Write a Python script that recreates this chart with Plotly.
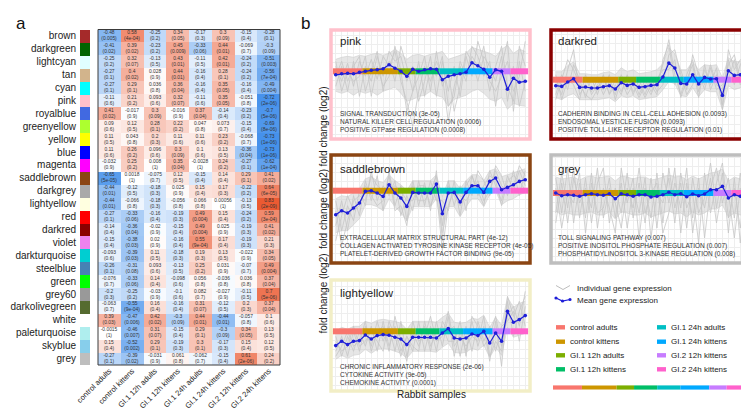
import plotly.graph_objects as go

W, H = 749, 409
FONT = "Liberation Sans, Arial, sans-serif"

# ---------------- panel a: module-trait heatmap ----------------
modules = ["brown", "darkgreen", "lightcyan", "tan", "cyan", "pink", "royalblue", "greenyellow",
           "yellow", "blue", "magenta", "saddlebrown", "darkgrey", "lightyellow", "red", "darkred",
           "violet", "darkturquoise", "steelblue", "green", "grey60", "darkolivegreen", "white",
           "paleturquoise", "skyblue", "grey"]
module_colors = ["#A52A2A", "#006400", "#E0FFFF", "#D2B48C", "#00FFFF", "#FFC0CB", "#4169E1", "#ADFF2F",
                 "#FFFF00", "#0000FF", "#FF00FF", "#8B4513", "#A9A9A9", "#FFFFE0", "#FF0000", "#8B0000",
                 "#EE82EE", "#00CED1", "#4682B4", "#00FF00", "#999999", "#556B2F", "#FFFFFF",
                 "#AFEEEE", "#87CEEB", "#BEBEBE"]
conditions = ["control adults", "control kittens", "GI.1 12h adults", "GI.1 12h kittens",
              "GI.1 24h adults", "GI.1 24h kittens", "GI.2 12h kittens", "GI.2 24h kittens"]

cor = [
    [-0.48, 0.58, -0.25, 0.34, -0.17, 0.3, -0.15, -0.28],
    [-0.41, 0.39, -0.23, 0.45, -0.33, 0.44, -0.069, -0.3],
    [-0.25, 0.32, -0.13, 0.43, -0.11, 0.42, -0.24, -0.51],
    [-0.27, 0.4, 0.028, 0.44, -0.16, 0.28, -0.24, -0.56],
    [-0.27, 0.29, 0.036, 0.36, -0.16, 0.35, -0.16, -0.49],
    [-0.11, 0.21, 0.093, 0.32, -0.11, 0.35, -0.051, -0.72],
    [0.41, -0.017, 0.3, -0.016, 0.37, -0.14, -0.23, -0.7],
    [0.09, 0.12, 0.28, 0.22, 0.047, 0.073, -0.15, -0.69],
    [0.11, 0.043, 0.2, 0.11, 0.11, 0.23, -0.068, -0.73],
    [0.11, 0.26, 0.096, 0.3, 0.1, 0.13, -0.36, -0.73],
    [-0.032, 0.25, 0.008, 0.35, -0.0028, 0.24, -0.27, -0.62],
    [-0.65, 0.0018, -0.075, 0.12, -0.15, 0.14, 0.29, 0.41],
    [-0.44, -0.12, -0.18, 0.025, 0.15, 0.17, -0.22, 0.64],
    [-0.44, -0.066, -0.18, -0.056, 0.066, 0.00056, -0.13, 0.83],
    [-0.27, -0.33, -0.16, -0.19, 0.49, 0.15, -0.24, 0.59],
    [-0.14, -0.36, -0.02, -0.15, 0.49, 0.025, -0.19, 0.41],
    [-0.15, -0.38, 0.02, -0.16, 0.55, 0.17, -0.19, 0.21],
    [-0.093, -0.39, 0.11, -0.18, 0.19, 0.13, -0.022, 0.34],
    [-0.26, -0.31, 0.093, -0.13, 0.25, 0.031, -0.07, 0.49],
    [-0.076, -0.33, 0.14, -0.098, 0.056, -0.036, 0.036, 0.37],
    [-0.2, -0.25, -0.03, -0.1, 0.082, -0.027, -0.11, 0.7],
    [-0.063, -0.55, 0.16, -0.16, 0.31, -0.12, 0.2, 0.37],
    [0.39, -0.47, 0.42, -0.3, 0.44, -0.44, -0.057, 0.1],
    [-0.0015, -0.46, 0.31, -0.15, 0.29, -0.3, 0.34, 0.13],
    [0.15, -0.52, 0.29, -0.19, 0.3, -0.17, 0.15, 0.12],
    [-0.27, -0.39, -0.031, 0.061, -0.062, -0.15, 0.61, 0.24],
]
pval = [
    ["0.005", "4e-04", "0.2", "0.05", "0.3", "0.09", "0.4", "0.1"],
    ["0.02", "0.02", "0.2", "0.009", "0.06", "0.01", "0.7", "0.09"],
    ["0.2", "0.07", "0.5", "0.01", "0.5", "0.01", "0.2", "0.003"],
    ["0.1", "0.02", "0.9", "0.01", "0.4", "0.1", "0.2", "7e-04"],
    ["0.1", "0.1", "0.8", "0.04", "0.4", "0.05", "0.4", "0.004"],
    ["0.6", "0.2", "0.6", "0.07", "0.6", "0.05", "0.8", "2e-06"],
    ["0.02", "0.9", "0.09", "0.9", "0.04", "0.4", "0.2", "5e-06"],
    ["0.6", "0.5", "0.1", "0.2", "0.8", "0.7", "0.4", "8e-06"],
    ["0.5", "0.8", "0.3", "0.6", "0.6", "0.2", "0.7", "1e-06"],
    ["0.6", "0.2", "0.6", "0.09", "0.6", "0.5", "0.04", "1e-06"],
    ["0.9", "0.2", "1", "0.04", "1", "0.2", "0.1", "1e-04"],
    ["5e-05", "1", "0.7", "0.5", "0.4", "0.4", "0.1", "0.02"],
    ["0.01", "0.5", "0.3", "0.9", "0.4", "0.3", "0.2", "6e-05"],
    ["0.01", "0.8", "0.3", "0.8", "0.8", "1", "0.5", "2e-09"],
    ["0.1", "0.06", "0.4", "0.3", "0.004", "0.4", "0.2", "3e-04"],
    ["0.4", "0.04", "0.9", "0.4", "0.004", "0.9", "0.3", "0.02"],
    ["0.4", "0.03", "0.9", "0.4", "9e-04", "0.4", "0.3", "0.3"],
    ["0.6", "0.03", "0.5", "0.3", "0.3", "0.5", "0.9", "0.05"],
    ["0.1", "0.08", "0.6", "0.5", "0.2", "0.9", "0.7", "0.004"],
    ["0.7", "0.06", "0.4", "0.6", "0.8", "0.8", "0.8", "0.04"],
    ["0.3", "0.2", "0.9", "0.6", "0.7", "0.9", "0.5", "5e-06"],
    ["0.7", "9e-04", "0.4", "0.4", "0.07", "0.5", "0.3", "0.04"],
    ["0.03", "0.006", "0.02", "0.09", "0.01", "0.01", "0.8", "0.6"],
    ["1", "0.007", "0.07", "0.4", "0.1", "0.09", "0.05", "0.5"],
    ["0.4", "0.002", "0.1", "0.3", "0.1", "0.3", "0.4", "0.5"],
    ["0.1", "0.02", "0.9", "0.8", "0.7", "0.4", "2e-06", "0.2"],
]

# ---------------- panel b: module expression profiles ----------------
group_names = ["control adults", "control kittens", "GI.1 12h adults", "GI.1 12h kittens",
               "GI.1 24h adults", "GI.1 24h kittens", "GI.2 12h kittens", "GI.2 24h kittens"]
group_colors = ["#F8766D", "#CD9600", "#7CAE00", "#00BE67", "#00BFC4", "#00A9FF", "#C77CFF", "#FF61CC"]
group_sizes = [5, 6, 3, 4, 4, 5, 3, 3]

panel_names = ["pink", "darkred", "saddlebrown", "grey", "lightyellow"]
panel_border = ["#FFC0CB", "#8B0000", "#8B4513", "#BEBEBE", "#F2EEC6"]

pink_mean = [-3.5, -2.5, -2, -2.5, -1, 0, 1, 1.5, 2.5, 6.5, 3, 0, -5, 2, 0, 1.5, 2.5, 2, -8.5, -5, -3.5,
             -2.5, -1, 8.5, 5.5, 2, -6, 1.5, 0, -18, -7, -11, -10]
darkred_mean = [-6, -6.7, -2.3, 1, -7.7, -7.3, -8.3, -8.3, -7, -6, -9.3, -3, -5.7, -4.3, -7.7, -7, -5.7,
                -5, 2.7, 16.7, 11.7, -3.7, -4.3, 5, -4.3, 2.3, 0.7, 1, -15.7, 9, 4.3, 5, 11]
saddlebrown_mean = [-24, -20, -22.3, -17.3, -12.3, -0.7, 0, -2.3, -5.7, 6, -2.3, -7.3, -15.7, -1.7, -2.3,
                    -2.3, -2.3, 6.7, -23, -2.3, -1.7, -11.3, -1.7, 5, 5, -1.7, 9.3, 12.7, 1, 3.3, 6, 9.3, 11]
grey_mean = [0, -2.7, -1.7, -2.3, -3.3, -1.7, -0.7, -1.7, -2.3, -0.7, -5.7, -0.7, -1.7, -3.3, -1.7, -1.7,
             -4, -3.3, -1.7, 0.7, -1.7, -0.7, -3.7, -1, -2.7, -1, 3.3, 3.3, 6.7, -5, -1.7, -3.3, -2.7]
lightyellow_mean = [-14.3, -10, -13.3, -10, -9.3, -3.7, -7.7, -4.3, -3.3, -4, -6, -7.7, -13.3, -6, -6, -6,
                    -6, -6.7, -1.7, 2.7, -6.7, -7.7, -6.7, -2.7, -4.3, 0, -11.7, -1.7, -10, 20, 9, 11.7, 15.7]

# dense core of the individual gene lines (upper / lower edge)
pink_hi = [12, 14, 15, 14, 16, 15, 17, 18, 16, 18, 22, 18, 12, 16, 17, 15, 17, 18, 20, 12, 14, 16, 18, 24, 22,
           20, 18, 15, 22, 26, 18, 22, 20]
pink_lo = [-20, -22, -20, -24, -20, -22, -20, -24, -20, -18, -16, -22, -30, -28, -25, -24, -20, -24, -26, -35,
           -28, -26, -24, -20, -18, -22, -28, -30, -26, -38, -32, -34, -35]
darkred_hi = [8, 8, 14, 18, 6, 6, 5, 5, 7, 8, 5, 12, 8, 10, 6, 7, 8, 10, 16, 32, 26, 10, 10, 18, 10, 15, 14, 15,
              2, 22, 18, 18, 24]
darkred_lo = [-18, -20, -16, -14, -20, -20, -20, -20, -19, -18, -22, -16, -18, -16, -20, -19, -18, -17, -10, -2,
              -4, -16, -17, -8, -17, -10, -12, -12, -30, -6, -10, -8, -4]
saddlebrown_hi = [-8, -5, -6, -2, 2, 12, 14, 10, 8, 16, 10, 6, 0, 10, 10, 10, 10, 16, -6, 10, 10, 2, 10, 16, 16,
                  10, 20, 22, 14, 16, 18, 20, 22]
saddlebrown_lo = [-42, -40, -40, -34, -28, -14, -14, -16, -20, -8, -16, -22, -30, -16, -16, -16, -16, -8, -42,
                  -16, -16, -26, -16, -8, -8, -16, -4, 0, -14, -10, -8, -4, -2]
grey_hi = [16, 14, 15, 16, 13, 16, 17, 15, 16, 17, 12, 17, 16, 14, 16, 16, 13, 14, 16, 18, 16, 17, 13, 17, 14,
           17, 20, 21, 24, 12, 16, 14, 15]
grey_lo = [-18, -22, -20, -22, -22, -20, -19, -22, -22, -19, -26, -19, -20, -22, -22, -20, -24, -22, -20, -18,
           -21, -20, -24, -19, -22, -20, -16, -16, -12, -24, -20, -22, -22]
lightyellow_hi = [0, 4, 2, 5, 5, 10, 8, 11, 12, 11, 10, 8, 2, 10, 10, 10, 10, 9, 14, 18, 9, 8, 9, 13, 12, 16, 4,
                  14, 6, 34, 24, 28, 30]
lightyellow_lo = [-28, -24, -27, -24, -23, -18, -22, -18, -17, -18, -20, -22, -27, -20, -20, -20, -20, -21, -16,
                  -12, -21, -22, -21, -17, -19, -14, -26, -16, -24, 4, -6, -4, -2]

# a few individual (outlying) gene profiles per module
pink_genes = [
    [5, -10, 8, -15, 10, -5, 12, -8, 15, 5, 20, -10, -30, -55, -20, 5, -10, 10, -5, -50, -15, 5, -10, 25, 15, -5, 10, -35, 5, 30, -40, 10, -20],
    [-15, 5, -20, 10, -25, 5, -10, 15, -5, 20, 10, 15, -10, 5, -30, -10, 15, -25, 10, -20, 5, -25, 15, -5, 30, 10, -20, 5, 25, -15, -30, 25, 5],
    [10, -20, 0, -10, -5, 15, -25, 5, -15, -5, 25, 0, -40, -20, 10, -25, 5, -5, 15, -35, -25, 10, -5, 15, 5, 25, -10, -20, -5, 10, -20, -5, 30],
    [-5, 10, -10, 5, 15, -20, 0, 20, -20, 10, -10, 25, 5, -20, -5, 15, -20, 20, -15, 0, -40, -15, 20, 10, -10, 15, 5, -10, 15, -30, 5, -35, -10],
]
darkred_genes = [
    [0, -15, 10, 30, -15, -5, -12, 0, -15, -2, -15, 5, -10, 2, -15, 0, -12, -2, 15, 40, 5, -15, 5, 20, -12, 10, -5, 12, -30, 20, -5, 15, 25],
    [-15, 5, -10, 15, 0, -18, 2, -15, 3, -14, 0, -12, 3, -15, 0, -15, 2, -12, -5, 25, 30, 5, -15, -5, 8, -10, 12, -10, -5, 0, 20, -5, 5],
    [5, -20, 0, -5, -20, 5, -15, -5, -10, 5, -20, 0, -15, -5, -18, -5, -15, 0, 10, 10, 20, -18, 0, 15, -18, 15, -10, 5, -25, 30, 10, 20, 15],
    [-20, 0, 20, 10, -5, -15, -20, -10, 5, -15, -5, -15, 5, -12, -5, -18, -5, -15, 20, 35, -5, 10, -10, 25, 5, -5, 15, -5, -10, 15, 25, 0, 30],
]
saddlebrown_genes = [
    [-35, -10, -40, -5, -25, 10, -10, 15, -20, 20, -15, 5, -30, 10, -15, 8, -20, 20, -50, 10, -15, 5, -20, 15, 0, -15, 20, 5, -10, 15, 0, 20, 5],
    [-10, -40, -15, -30, 0, -15, 20, -10, 5, -5, 10, -25, -5, -20, 10, -15, 10, -10, -10, -20, 10, -25, 10, -5, 20, 10, -5, 25, 15, -5, 20, -5, 20],
    [-50, -25, -5, -20, -15, 5, -5, -15, -10, 15, -20, -15, -35, 5, -10, -10, 0, 15, -35, 5, -5, -15, 5, 15, -5, 5, 15, 10, -15, 10, 15, 10, 0],
    [-20, -55, -30, -10, -5, -10, 15, 5, 0, 0, 5, 0, -10, -10, 5, 5, -15, 0, -60, -15, 0, -5, -10, 0, 10, -10, 0, 20, 5, 0, 5, 25, 15],
]
grey_genes = [
    [15, -20, 25, -30, 10, -25, 20, -35, 5, -15, -40, 25, -10, 15, -45, 5, -25, 20, -30, 25, -15, 10, -35, 15, -20, -5, 30, -15, 20, -40, 15, -50, 10],
    [-20, 20, -15, 25, -25, 15, -30, 10, 25, -30, 5, -20, 20, -25, 10, -30, 15, -35, 20, -10, 25, -40, 10, -25, 15, -45, 5, 25, -10, 15, -25, 20, -30],
    [5, -35, 0, -10, 20, -40, 10, -20, -15, 15, -25, 10, -35, 5, -20, 15, -45, 0, -10, 15, -30, 20, -15, 0, -50, 20, -20, 10, 30, -25, 5, -35, 15],
    [-30, 10, -30, 15, -10, 5, -15, 25, -25, 5, -10, -35, 5, -15, 25, -20, 0, 10, -40, -20, 10, -15, 25, -40, 5, -15, 15, -30, 5, 0, -45, 5, -20],
]
lightyellow_genes = [
    [-20, -5, -25, 0, -20, 5, -15, 10, -10, 5, -20, 10, -25, 0, -15, 5, -20, 10, -15, 15, -25, 0, -20, 10, -15, 5, -30, 10, -35, 30, -5, 20, 35],
    [-5, -25, -5, -20, 0, -15, 5, -20, 10, -15, 5, -20, -5, -20, 10, -20, 5, -20, 10, 0, 5, -25, 5, -20, 10, -10, 5, -20, 5, 10, 20, -10, 25],
    [-25, -15, 0, -15, -10, 10, -20, 0, 5, -20, 15, -10, -30, 10, -10, -5, 15, -10, -5, 20, -15, -5, -15, -5, -10, 15, -25, -10, -20, 35, 15, 30, 5],
    [-10, -20, -15, 5, -15, -10, 0, -10, -20, 10, -5, -25, -5, -15, -20, 10, -15, 0, 5, -10, -10, 10, -25, 15, 5, -15, -5, 15, -15, 15, 25, 5, 40],
]

go_terms = {
    "pink": ["SIGNAL TRANSDUCTION (3e-05)", "NATURAL KILLER CELL REGULATION (0.0006)",
             "POSITIVE GTPase REGULATION (0.0008)"],
    "darkred": ["CADHERIN BINDING IN CELL-CELL ADHESION (0.0093)", "ENDOSOMAL VESTICLE FUSION (0.0093)",
                "POSITIVE TOLL-LIKE RECEPTOR REGULATION (0.01)"],
    "saddlebrown": ["EXTRACELLULAR MATRIX STRUCTURAL PART (4e-12)",
                    "COLLAGEN ACTIVATED TYROSINE KINASE RECEPTOR (4e-05)",
                    "PLATELET-DERIVED GROWTH FACTOR BINDING (9e-05)"],
    "grey": ["TOLL SIGNALING PATHWAY (0.007)", "POSITIVE INOSITOL PHOSPHATE REGULATION (0.007)",
             "PHOSPHATIDYLINOSITOL 3-KINASE REGULATION (0.008)"],
    "lightyellow": ["CHRONIC INFLAMMATORY RESPONSE (2e-06)", "CYTOKINE ACTIVITY (9e-05)",
                    "CHEMOKINE ACTIVITY (0.0001)"],
}

panel_data = {
    "pink": (pink_mean, pink_hi, pink_lo, pink_genes),
    "darkred": (darkred_mean, darkred_hi, darkred_lo, darkred_genes),
    "saddlebrown": (saddlebrown_mean, saddlebrown_hi, saddlebrown_lo, saddlebrown_genes),
    "grey": (grey_mean, grey_hi, grey_lo, grey_genes),
    "lightyellow": (lightyellow_mean, lightyellow_hi, lightyellow_lo, lightyellow_genes),
}

# ---------------- layout helpers ----------------
def px(x, y):
    return x / W, 1 - y / H

def xdom(a, b):
    return [a / W, b / W]

def ydom(top, bottom):
    return [1 - bottom / H, 1 - top / H]

panel_geom = {  # x-left, x-right, y-top, y-bottom, y-range
    "pink": (323, 522, 22, 131, [-67.7, 41.3]),
    "darkred": (543, 743, 22, 131, [-59.3, 49.7]),
    "saddlebrown": (323, 522, 147, 255, [-72.3, 35.7]),
    "grey": (543, 743, 147, 255, [-70, 38]),
    "lightyellow": (323, 522, 272, 383, [-59.7, 51.3]),
}

fig = go.Figure()
layout = dict(width=W, height=H, margin=dict(l=0, r=0, t=0, b=0), paper_bgcolor="white",
              plot_bgcolor="white", showlegend=False, bargap=0,
              font=dict(family=FONT, color="#222"))
annotations = []
shapes = []

# heatmap
text = [[f"{v:g}<br>({p})" for v, p in zip(rv, rp)] for rv, rp in zip(cor, pval)]
fig.add_trace(go.Heatmap(
    z=cor, x=conditions, y=modules, text=text, texttemplate="%{text}",
    textfont=dict(size=4.9, color="#333", family=FONT), zmin=-1, zmax=1, showscale=False,
    colorscale=[[0, "rgb(0,104,228)"], [0.5, "rgb(255,255,255)"], [1, "rgb(231,56,8)"]],
    xaxis="x", yaxis="y", xgap=0, ygap=0))
layout["xaxis"] = dict(domain=xdom(90, 272), tickangle=-45, tickfont=dict(size=7.6, color="#222"),
                       ticks="", showgrid=False, zeroline=False, automargin=False, ticklabelstandoff=-1)
layout["yaxis"] = dict(domain=ydom(21.5, 357), showticklabels=False, ticks="", showgrid=False,
                       zeroline=False, autorange="reversed", categoryorder="array", categoryarray=modules,
                       automargin=False)
shapes.append(dict(type="rect", xref="x domain", yref="y domain", x0=0, x1=1, y0=0, y1=1,
                   line=dict(color="#3a3a3a", width=1)))

# module colour swatches
fig.add_trace(go.Bar(x=[1] * len(modules), y=modules, orientation="h", marker=dict(color=module_colors,
              line=dict(width=0)), xaxis="x2", yaxis="y2", width=1))
layout["xaxis2"] = dict(domain=xdom(72, 82), range=[0, 1], showticklabels=False, ticks="", showgrid=False,
                        zeroline=False, automargin=False)
layout["yaxis2"] = dict(domain=ydom(21.5, 357), anchor="x2", autorange="reversed", categoryorder="array",
                        categoryarray=modules, ticks="", tickfont=dict(size=10, color="#222"),
                        showgrid=False, zeroline=False, automargin=False, ticklabelstandoff=3)

# sample positions and group segments
n_samples = sum(group_sizes)
samples = list(range(n_samples))
starts = []
s = 0
for g in group_sizes:
    starts.append(s)
    s += g

def add_group_bar(xa, ya, width):
    for st, g, col in zip(starts, group_sizes, group_colors):
        fig.add_trace(go.Scatter(x=[st - 0.5, st + g - 0.5], y=[0, 0], mode="lines",
                                 line=dict(color=col, width=width), xaxis=xa, yaxis=ya, hoverinfo="skip"))

for k, name in enumerate(panel_names):
    idx = 3 + k
    xa, ya = f"x{idx}", f"y{idx}"
    x0, x1, y0, y1, yr = panel_geom[name]
    mean, hi, lo, genes = panel_data[name]
    layout[f"xaxis{idx}"] = dict(domain=xdom(x0, x1), range=[-0.8, n_samples - 0.2], anchor=ya,
                                 showticklabels=False, ticks="", showgrid=True, gridcolor="#EEEEEE",
                                 gridwidth=0.6, dtick=1, tick0=0, zeroline=False, automargin=False)
    layout[f"yaxis{idx}"] = dict(domain=ydom(y0, y1), range=yr, anchor=xa, showticklabels=False, ticks="",
                                 showgrid=True, gridcolor="#EEEEEE", gridwidth=0.6, dtick=9, tick0=0,
                                 zeroline=False, automargin=False)
    fig.add_trace(go.Scatter(x=samples, y=lo, mode="lines", line=dict(width=0.6, color="#CFCFCF"),
                             xaxis=xa, yaxis=ya, hoverinfo="skip"))
    fig.add_trace(go.Scatter(x=samples, y=hi, mode="lines", line=dict(width=0.6, color="#CFCFCF"),
                             fill="tonexty", fillcolor="rgba(205,205,205,0.5)", xaxis=xa, yaxis=ya,
                             hoverinfo="skip"))
    for gl in genes:
        fig.add_trace(go.Scatter(x=samples, y=gl, mode="lines", line=dict(width=0.8, color="#C6C6C6"),
                                 xaxis=xa, yaxis=ya, hoverinfo="skip"))
    add_group_bar(xa, ya, 6)
    fig.add_trace(go.Scatter(x=samples, y=mean, mode="lines+markers",
                             line=dict(color="#1E1ED8", width=1.2), marker=dict(color="#1E1ED8", size=3.6),
                             xaxis=xa, yaxis=ya))
    shapes.append(dict(type="rect", xref=f"{xa} domain", yref=f"{ya} domain", x0=0, x1=1, y0=0, y1=1,
                       line=dict(color=panel_border[k], width=3.5), layer="above"))
    tx = x0 + 7 if x0 < 530 else x0 + 5
    ty = y0 + (11 if y0 < 100 else 14 if y0 < 200 else 13)
    ax, ay = px(tx, ty)
    annotations.append(dict(x=ax, y=ay, xref="paper", yref="paper", text=name, showarrow=False,
                            xanchor="left", yanchor="middle", font=dict(size=11.5, color="#222")))
    base = y1 - 25 if y0 < 100 else y1 - 24.5 if y0 < 200 else y1 - 24
    for j, term in enumerate(go_terms[name]):
        ax, ay = px(tx, base + j * 7.8)
        annotations.append(dict(x=ax, y=ay, xref="paper", yref="paper", text=term, showarrow=False,
                                xanchor="left", yanchor="middle", font=dict(size=6.5, color="#333")))

# bottom group colour strip
layout["xaxis8"] = dict(domain=xdom(545, 736), range=[-0.5, n_samples - 0.5], anchor="y8", visible=False)
layout["yaxis8"] = dict(domain=ydom(376, 383), range=[-1, 1], anchor="x8", visible=False)
add_group_bar("x8", "y8", 4.2)

# y titles and x title
for name in ["pink", "saddlebrown", "lightyellow"]:
    x0, x1, y0, y1, yr = panel_geom[name]
    ax, ay = px(315, (y0 + y1) / 2)
    annotations.append(dict(x=ax, y=ay, xref="paper", yref="paper", text="fold change (log2)",
                            textangle=-90, showarrow=False, font=dict(size=10, color="#222")))
ax, ay = px(423, 394)
annotations.append(dict(x=ax, y=ay, xref="paper", yref="paper", text="Rabbit samples", showarrow=False,
                        font=dict(size=10, color="#222")))

# panel letters
for lab, (lx, ly) in [("a", (13, 15)), ("b", (297, 15))]:
    ax, ay = px(lx, ly)
    annotations.append(dict(x=ax, y=ay, xref="paper", yref="paper", text=lab, showarrow=False,
                            font=dict(size=17, color="#111"), xanchor="center", yanchor="middle"))

# legend: line glyphs
def path(points):
    return "M " + " L ".join(f"{px(a, b)[0]},{px(a, b)[1]}" for a, b in points)

shapes.append(dict(type="path", xref="paper", yref="paper", path=path([(548, 277.5), (555, 281.5), (562, 277.5)]),
                   line=dict(color="#BDBDBD", width=1)))
mean_pts = [(548, 290), (554.5, 293), (562, 291.5)]
shapes.append(dict(type="path", xref="paper", yref="paper", path=path(mean_pts),
                   line=dict(color="#1E1ED8", width=1.2)))
for a, b in mean_pts:
    cx0, cy0 = px(a - 1.6, b + 1.6)
    cx1, cy1 = px(a + 1.6, b - 1.6)
    shapes.append(dict(type="circle", xref="paper", yref="paper", x0=cx0, y0=cy0, x1=cx1, y1=cy1,
                       fillcolor="#1E1ED8", line=dict(width=0)))
for txt, yy in [("Individual gene expression", 280), ("Mean gene expression", 292)]:
    ax, ay = px(567, yy)
    annotations.append(dict(x=ax, y=ay, xref="paper", yref="paper", text=txt, showarrow=False,
                            xanchor="left", yanchor="middle", font=dict(size=8, color="#222")))

# legend: groups
row_y = [319.3, 333.7, 347.3, 361.3]
for i, (gname, gcol) in enumerate(zip(group_names, group_colors)):
    col, row = divmod(i, 4)
    sx = 548 if col == 0 else 649
    yy = row_y[row]
    rx0, ry0 = px(sx, yy + 2.2)
    rx1, ry1 = px(sx + 9, yy - 2.2)
    shapes.append(dict(type="rect", xref="paper", yref="paper", x0=rx0, y0=ry0, x1=rx1, y1=ry1,
                       fillcolor=gcol, line=dict(width=0)))
    ax, ay = px(sx + 12, yy)
    annotations.append(dict(x=ax, y=ay, xref="paper", yref="paper", text=gname, showarrow=False,
                            xanchor="left", yanchor="middle", font=dict(size=8, color="#222")))

layout["annotations"] = annotations
layout["shapes"] = shapes
fig.update_layout(**layout)
fig.write_html("out.html")
